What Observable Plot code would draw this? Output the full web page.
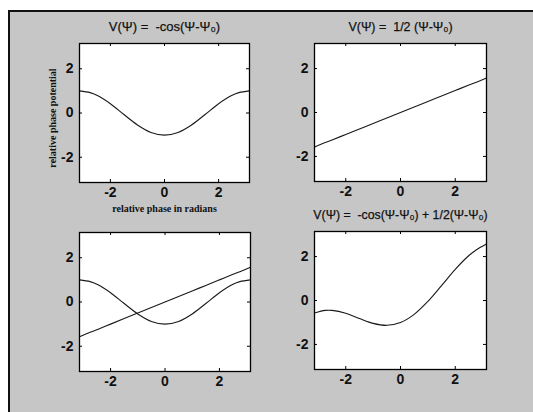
<!DOCTYPE html>
<html>
<head>
<meta charset="utf-8">
<script src="https://cdn.jsdelivr.net/npm/d3@7"></script>
<script src="https://cdn.jsdelivr.net/npm/@observablehq/plot@0.6"></script>
<style>
  html, body { margin: 0; padding: 0; background: white; }
  #root { position: relative; width: 533px; height: 412px; overflow: hidden; background: white; }
  #bg { position: absolute; left: 8px; top: 10px; width: 525px; height: 402px; box-sizing: border-box;
        background: #c6c6c6; border-left: 2px solid #111; border-top: 2px solid #111; }
  .panel { position: absolute; }
</style>
</head>
<body>
<div id="root"><div id="bg"></div></div>
<script>
// relative phase Ψ (radians), sample positions read along the x axis
const psi = [-3.14, -2.75, -2.5, -2, -1.5, -1, -0.5, 0, 0.5, 1, 1.5, 2, 2.5, 2.75, 3.14];
// V(Ψ) = -cos(Ψ-Ψ0)
const vCos = [1.0, 0.92, 0.80, 0.42, -0.07, -0.54, -0.88, -1.0, -0.88, -0.54, -0.07, 0.42, 0.80, 0.92, 1.0];
// V(Ψ) = 1/2 (Ψ-Ψ0)
const vLin = [-1.57, -1.37, -1.25, -1.0, -0.75, -0.5, -0.25, 0, 0.25, 0.5, 0.75, 1.0, 1.25, 1.37, 1.57];
// V(Ψ) = -cos(Ψ-Ψ0) + 1/2(Ψ-Ψ0)
const vSum = [-0.57, -0.45, -0.45, -0.58, -0.82, -1.04, -1.13, -1.0, -0.63, -0.04, 0.68, 1.42, 2.05, 2.29, 2.57];
const ticks = [-2, 0, 2];
const titles = [
  "V(Ψ) =  -cos(Ψ-Ψ₀)",
  "V(Ψ) =  1/2 (Ψ-Ψ₀)",
  "",
  "V(Ψ) =  -cos(Ψ-Ψ₀) + 1/2(Ψ-Ψ₀)"
];
const yLabel = "relative phase potential";
const xLabel = "relative phase in radians";

const toRows = (ys) => psi.map((x, i) => ({x, y: ys[i]}));

const panels = [
  {frame: [79, 43, 249, 182], series: [vCos], title: titles[0], titleSize: 13, labels: true},
  {frame: [314, 43, 486, 181], series: [vLin], title: titles[1], titleSize: 12.5},
  {frame: [79, 232, 250, 371], series: [vCos, vLin], title: titles[2]},
  {frame: [314, 231, 486, 369], series: [vSum], title: titles[3], titleSize: 12.3}
];

const ML = 60, MR = 20, MT = 40, MB = 40;
const tickFont = "'Liberation Sans Narrow', 'Liberation Sans', Arial, sans-serif";
const serif = "'Liberation Serif', 'Times New Roman', serif";

for (const p of panels) {
  const [x0, y0, x1, y1] = p.frame;
  const fw = x1 - x0, fh = y1 - y0;
  const marks = [
    Plot.frame({fill: "white", stroke: "none"}),
    ...p.series.map(s => Plot.line(toRows(s), {x: "x", y: "y", stroke: "#1a1a1a", strokeWidth: 1.1, curve: "catmull-rom"})),
    Plot.frame({stroke: "#000", strokeWidth: 1.3}),
    Plot.tickX(ticks, {x: d => d, insetTop: fh - 3, stroke: "#000"}),
    Plot.tickX(ticks, {x: d => d, insetBottom: fh - 3, stroke: "#000"}),
    Plot.tickY(ticks, {y: d => d, insetRight: fw - 3, stroke: "#000"}),
    Plot.tickY(ticks, {y: d => d, insetLeft: fw - 3, stroke: "#000"}),
    Plot.axisX(ticks, {tickSize: 0, tickPadding: 5, label: null, tickFormat: d => String(d), fontSize: 14, fontWeight: "bold", fontFamily: tickFont, fill: "#111"}),
    Plot.axisY(ticks, {tickSize: 0, tickPadding: 6, label: null, tickFormat: d => String(d), fontSize: 14, fontWeight: "bold", fontFamily: tickFont, fill: "#111"})
  ];
  if (p.title) {
    marks.push(Plot.text([p.title], {frameAnchor: "top", dy: -13, lineAnchor: "bottom", text: d => d,
      fontSize: p.titleSize, fontFamily: "'Liberation Sans', Arial, sans-serif", fill: "#111", stroke: "#111", strokeWidth: 0.25}));
  }
  if (p.labels) {
    marks.push(Plot.text([xLabel], {frameAnchor: "bottom", dy: 29, lineAnchor: "bottom", text: d => d,
      fontSize: 10, fontWeight: "bold", fontFamily: serif, fill: "#111"}));
    marks.push(Plot.text([yLabel], {frameAnchor: "left", dx: -27, dy: 5, rotate: -90, textAnchor: "middle", text: d => d,
      fontSize: 10, fontWeight: "bold", fontFamily: serif, fill: "#111"}));
  }
  const chart = Plot.plot({
    width: fw + ML + MR,
    height: fh + MT + MB,
    marginLeft: ML, marginRight: MR, marginTop: MT, marginBottom: MB,
    x: {domain: [-Math.PI, Math.PI], axis: null},
    y: {domain: [-Math.PI, Math.PI], axis: null},
    style: {background: "transparent", overflow: "visible"},
    marks
  });
  const div = document.createElement("div");
  div.className = "panel";
  div.style.left = (x0 - ML) + "px";
  div.style.top = (y0 - MT) + "px";
  div.appendChild(chart);
  document.getElementById("root").appendChild(div);
}
</script>
</body>
</html>
